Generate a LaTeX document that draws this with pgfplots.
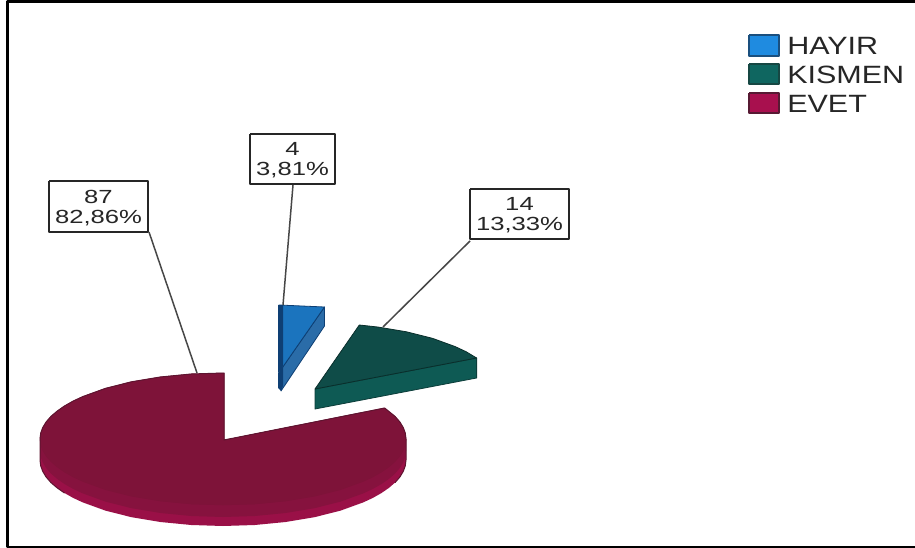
\documentclass[border=0pt]{standalone}
\usepackage{pgfplots}
\pgfplotsset{compat=1.18}
\usepackage{fontspec}
\setmainfont{Liberation Sans}
\definecolor{mtop}{HTML}{7E1339}
\definecolor{mside}{HTML}{86123E}
\definecolor{mlow}{HTML}{9A1047}
\definecolor{medge}{HTML}{5E1430}
\definecolor{ttop}{HTML}{0F4C48}
\definecolor{tside}{HTML}{0E5A54}
\definecolor{btop}{HTML}{1B74BE}
\definecolor{bside}{HTML}{2A6CA8}
\definecolor{bedge}{HTML}{0E3F74}
\definecolor{lbl}{HTML}{262626}
\definecolor{legb}{HTML}{1F8BE0}
\definecolor{legbd}{HTML}{1A4F7E}
\definecolor{legt}{HTML}{0F6660}
\definecolor{legtd}{HTML}{164743}
\definecolor{legm}{HTML}{A8104E}
\definecolor{legmd}{HTML}{571A33}
\tikzset{
  lab/.style={xscale=1.35, align=center, text=lbl, inner sep=0pt,
     font=\fontsize{19}{20}\selectfont},
  leg/.style={xscale=1.22, anchor=west, text=lbl, inner sep=0pt,
     font=\fontsize{25}{25}\selectfont},
  box/.style={fill=white, draw=lbl, line width=2pt},
  lead/.style={draw=lbl!85!white, line width=1.5pt},
}
\begin{document}
\begin{tikzpicture}
\begin{axis}[
  hide axis, scale only axis, width=915pt, height=548pt,
  xmin=0, xmax=915, ymin=0, ymax=548, y dir=reverse,
  no markers, line join=round,
]
% page
\addplot[fill=white, draw=none] coordinates {(0,0)(915,0)(915,548)(0,548)(0,0)};
% frame: no line on the right
\addplot[draw=black, line width=2.4pt] coordinates {(915,1.4)(7.5,1.4)(7.5,546.8)(915,546.8)};

% EVET: side, lower band
\addplot[fill=mlow, draw=none] coordinates {
 (406,439)(406,460)(405.3,465.8)(403.2,471.5)(399.8,477.1)(395,482.6)(388.9,487.9)(381.5,493)(372.9,497.9)(363.2,502.4)(340.6,510.6)(314.5,517.2)(285.6,522)(254.8,525)(223,526)(191.2,525)(160.4,522)(131.5,517.2)(105.4,510.6)(82.8,502.4)(73.1,497.9)(64.5,493)(57.2,487.9)(51,482.6)(46.2,477.1)(42.8,471.5)(40.7,465.8)(40,460)(40,439)(406,439)};
\addplot[fill=mside, draw=none] coordinates {
 (406,439)(406,451)(405.3,456.8)(403.2,462.5)(399.8,468.1)(395,473.6)(388.9,478.9)(381.5,484)(372.9,488.9)(363.2,493.4)(340.6,501.6)(314.5,508.2)(285.6,513)(254.8,516)(223,517)(191.2,516)(160.4,513)(131.5,508.2)(105.4,501.6)(82.8,493.4)(73.1,488.9)(64.5,484)(57.2,478.9)(51,473.6)(46.2,468.1)(42.8,462.5)(40.7,456.8)(40,451)(40,439)(406,439)};
% EVET: top
\addplot[fill=mtop, draw=mtop, line width=0.5pt] coordinates {
 (224,440)(384.6,408)(395,416.4)(399.8,421.9)(403.2,427.5)(405.3,433.2)(406,439)(405.3,444.8)(403.2,450.5)(399.8,456.1)(395,461.6)(388.9,466.9)(381.5,472)(372.9,476.9)(363.2,481.4)(340.6,489.6)(314.5,496.2)(285.6,501)(254.8,504)(223,505)(191.2,504)(160.4,501)(131.5,496.2)(105.4,489.6)(82.8,481.4)(73.1,476.9)(64.5,472)(57.2,466.9)(51,461.6)(46.2,456.1)(42.8,450.5)(40.7,444.8)(40,439)(40.7,433.2)(42.8,427.5)(46.2,421.9)(51,416.4)(57.2,411.1)(64.5,406)(73.1,401.1)(82.8,396.6)(105.4,388.4)(131.5,381.8)(160.4,377)(191.2,374)(224,373)(224,440)};
% EVET: dark edges
\addplot[draw=medge, line width=1pt] coordinates {
 (64.5,493)(57.2,487.9)(51,482.6)(46.2,477.1)(42.8,471.5)(40.7,465.8)(40,460)(40,439)(40.7,433.2)(42.8,427.5)(46.2,421.9)(51,416.4)(57.2,411.1)(64.5,406)(73.1,401.1)(82.8,396.6)(105.4,388.4)(131.5,381.8)(160.4,377)(191.2,374)(224,373)(224,440)(384.6,408)(395,416.4)(399.8,421.9)(403.2,427.5)(405.3,433.2)(406,439)(406,460)(405.3,465.8)(403.2,471.5)(399.8,477.1)(395,482.6)};

% KISMEN
\addplot[fill=tside, draw=ttop!80!black, line width=0.8pt] coordinates {(315,389)(476.6,358)(476.6,378)(315,409)(315,389)};
\addplot[fill=ttop, draw=ttop!60!black, line width=0.8pt] coordinates {(315,389)(359.3,325)(377.6,327)(406.5,331.8)(432.7,338.4)(455.2,346.6)(466.3,351.8)(476.6,358)(315,389)};

% HAYIR
\addplot[fill=bside, draw=bedge, line width=0.8pt] coordinates {(280,371)(324.5,307)(324.5,326)(281,391)(280,371)};
\addplot[fill=btop, draw=bedge, line width=0.8pt] coordinates {(280,371)(279,305)(324.5,307)(280,371)};
\addplot[fill=bedge, draw=none] coordinates {(278,305)(283,305)(283,366)(278,373)(278,305)};
\addplot[fill=bedge, draw=none] coordinates {(278,373)(283,366)(283,386)(281,391)(278,388)(278,373)};

% leaders
\addplot[lead] coordinates {(293,185)(283,305)};
\addplot[lead] coordinates {(470,241)(383,327)};
\addplot[lead] coordinates {(149,232)(197,373)};

% label boxes
\addplot[box] coordinates {(250,134)(335,134)(335,184)(250,184)(250,134)};
\addplot[box] coordinates {(470,189)(569,189)(569,239)(470,239)(470,189)};
\addplot[box] coordinates {(49,181)(148,181)(148,232)(49,232)(49,181)};
\node[lab] at (axis cs:292.5,160) {4\\3,81\%};
\node[lab] at (axis cs:519.5,215) {14\\13,33\%};
\node[lab] at (axis cs:98.5,208) {87\\82,86\%};

% legend
\addplot[fill=legb, draw=legbd, line width=2pt] coordinates {(749,35)(779,35)(779,56)(749,56)(749,35)};
\addplot[fill=legt, draw=legtd, line width=2pt] coordinates {(749,64)(779,64)(779,84)(749,84)(749,64)};
\addplot[fill=legm, draw=legmd, line width=2pt] coordinates {(749,93)(779,93)(779,113)(749,113)(749,93)};
\node[leg] at (axis cs:787,46) {HAYIR};
\node[leg] at (axis cs:787,75) {KISMEN};
\node[leg] at (axis cs:787,104) {EVET};
\end{axis}
\end{tikzpicture}
\end{document}
